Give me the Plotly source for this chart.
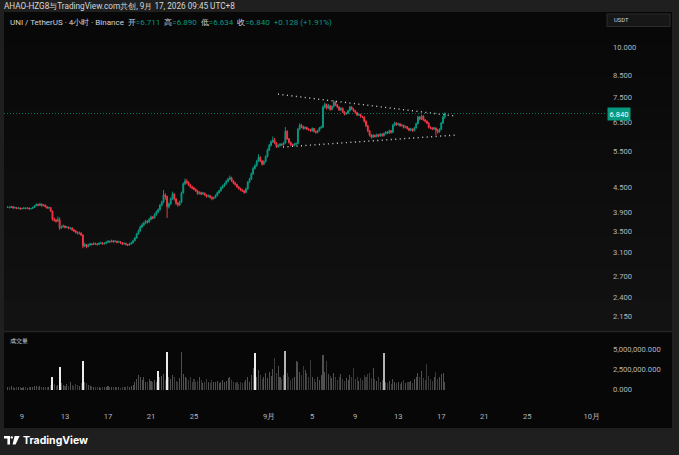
import math
import pandas as pd
import plotly.graph_objects as go

# ---------------- data ----------------
first_open = 4.00
closes = [4.01, 4.00, 4.02, 3.99, 4.00, 3.98, 3.99, 3.97, 3.98, 3.99,
          3.98, 3.99, 3.97, 3.98, 4.00, 4.04, 4.07, 4.05, 4.08, 4.04,
          4.06, 4.02, 3.99, 4.00, 3.92, 3.74, 3.72, 3.70, 3.73, 3.56,
          3.58, 3.60, 3.57, 3.58, 3.55, 3.56, 3.52, 3.50, 3.47, 3.45,
          3.46, 3.42, 3.21, 3.24, 3.20, 3.23, 3.25, 3.24, 3.26, 3.25,
          3.24, 3.26, 3.27, 3.25, 3.26, 3.28, 3.30, 3.29, 3.31, 3.29,
          3.30, 3.28, 3.29, 3.27, 3.25, 3.26, 3.24, 3.23, 3.25, 3.27,
          3.31, 3.36, 3.44, 3.50, 3.58, 3.62, 3.66, 3.70, 3.68, 3.74,
          3.79, 3.77, 3.84, 3.90, 3.95, 4.05, 4.12, 4.30, 4.26, 4.02,
          4.08, 4.20, 4.32, 4.20, 4.10, 4.06, 4.12, 4.35, 4.58, 4.65,
          4.62, 4.55, 4.50, 4.47, 4.44, 4.40, 4.33, 4.36, 4.32, 4.34,
          4.30, 4.26, 4.28, 4.24, 4.21, 4.23, 4.28, 4.35, 4.40, 4.48,
          4.52, 4.58, 4.64, 4.70, 4.74, 4.66, 4.60, 4.56, 4.50, 4.46,
          4.42, 4.40, 4.36, 4.45, 4.62, 4.70, 4.85, 5.00, 5.08, 5.20,
          5.33, 5.22, 5.12, 5.20, 5.35, 5.55, 5.70, 5.82, 5.88, 5.78,
          5.66, 5.70, 5.74, 5.72, 5.78, 6.18, 5.92, 5.80, 5.72, 5.70,
          5.74, 5.76, 6.25, 6.40, 6.35, 6.28, 6.32, 6.26, 6.24, 6.20,
          6.28, 6.18, 6.14, 6.20, 6.30, 6.33, 7.10, 7.20, 7.05, 7.15,
          7.00, 7.12, 7.30, 7.18, 7.10, 6.98, 7.05, 6.90, 6.82, 6.85,
          6.95, 7.10, 7.02, 6.95, 6.88, 6.78, 6.80, 6.72, 6.70, 6.55,
          6.38, 6.20, 6.05, 5.98, 6.04, 6.00, 6.06, 6.02, 6.08, 6.03,
          6.10, 6.15, 6.12, 6.20, 6.14, 6.40, 6.48, 6.42, 6.45, 6.38,
          6.40, 6.32, 6.35, 6.28, 6.22, 6.26, 6.20, 6.30, 6.45, 6.70,
          6.62, 6.74, 6.60, 6.55, 6.48, 6.32, 6.30, 6.26, 6.30, 6.22,
          6.16, 6.25, 6.48, 6.711, 6.840]

highs = [4.03, 4.02, 4.04, 4.03, 4.02, 4.01, 4.01, 4.00, 3.99, 4.01,
         4.00, 4.01, 4.00, 3.99, 4.02, 4.06, 4.10, 4.09, 4.11, 4.09,
         4.08, 4.07, 4.03, 4.02, 4.01, 3.93, 3.78, 3.75, 3.80, 3.78,
         3.61, 3.63, 3.61, 3.60, 3.59, 3.58, 3.57, 3.54, 3.52, 3.49,
         3.49, 3.47, 3.43, 3.27, 3.25, 3.25, 3.27, 3.26, 3.28, 3.27,
         3.26, 3.28, 3.29, 3.28, 3.28, 3.30, 3.32, 3.31, 3.33, 3.32,
         3.32, 3.31, 3.31, 3.30, 3.28, 3.28, 3.27, 3.25, 3.27, 3.29,
         3.33, 3.38, 3.46, 3.53, 3.61, 3.66, 3.69, 3.73, 3.72, 3.77,
         3.82, 3.81, 3.87, 3.93, 3.98, 4.08, 4.16, 4.42, 4.34, 4.28,
         4.12, 4.24, 4.38, 4.34, 4.22, 4.13, 4.16, 4.38, 4.62, 4.72,
         4.70, 4.64, 4.58, 4.53, 4.50, 4.46, 4.42, 4.39, 4.38, 4.37,
         4.36, 4.32, 4.31, 4.30, 4.26, 4.26, 4.31, 4.38, 4.43, 4.51,
         4.56, 4.61, 4.68, 4.74, 4.80, 4.77, 4.68, 4.63, 4.58, 4.52,
         4.48, 4.45, 4.42, 4.48, 4.65, 4.74, 4.89, 5.05, 5.12, 5.25,
         5.42, 5.36, 5.25, 5.24, 5.39, 5.60, 5.75, 5.87, 6.00, 5.95,
         5.81, 5.74, 5.78, 5.77, 5.82, 6.33, 6.22, 5.95, 5.83, 5.76,
         5.78, 5.80, 6.30, 6.47, 6.45, 6.38, 6.36, 6.34, 6.29, 6.27,
         6.32, 6.30, 6.21, 6.24, 6.34, 6.38, 7.16, 7.28, 7.24, 7.22,
         7.18, 7.16, 7.38, 7.34, 7.22, 7.13, 7.09, 7.08, 6.93, 6.90,
         6.99, 7.15, 7.13, 7.05, 6.98, 6.91, 6.85, 6.83, 6.76, 6.73,
         6.58, 6.41, 6.23, 6.09, 6.08, 6.07, 6.10, 6.09, 6.12, 6.11,
         6.14, 6.19, 6.18, 6.24, 6.23, 6.45, 6.53, 6.51, 6.49, 6.48,
         6.44, 6.42, 6.39, 6.37, 6.31, 6.30, 6.28, 6.34, 6.50, 6.76,
         6.74, 6.80, 6.77, 6.63, 6.58, 6.51, 6.36, 6.33, 6.34, 6.32,
         6.26, 6.29, 6.52, 6.75, 6.890]

lows = [3.99, 3.98, 3.99, 3.97, 3.98, 3.96, 3.97, 3.95, 3.96, 3.97,
        3.96, 3.97, 3.95, 3.96, 3.97, 3.99, 4.03, 4.03, 4.04, 4.02,
        4.03, 4.00, 3.97, 3.97, 3.90, 3.71, 3.69, 3.67, 3.69, 3.52,
        3.54, 3.57, 3.55, 3.56, 3.53, 3.53, 3.50, 3.48, 3.45, 3.43,
        3.43, 3.40, 3.17, 3.19, 3.17, 3.19, 3.22, 3.22, 3.23, 3.23,
        3.22, 3.23, 3.25, 3.23, 3.24, 3.25, 3.27, 3.27, 3.28, 3.27,
        3.28, 3.26, 3.27, 3.25, 3.23, 3.24, 3.22, 3.21, 3.22, 3.24,
        3.26, 3.30, 3.35, 3.43, 3.49, 3.56, 3.60, 3.65, 3.65, 3.67,
        3.72, 3.74, 3.76, 3.82, 3.88, 3.93, 4.03, 4.10, 4.18, 3.77,
        3.98, 4.06, 4.18, 4.16, 4.06, 4.02, 4.04, 4.10, 4.33, 4.55,
        4.57, 4.52, 4.47, 4.44, 4.41, 4.37, 4.30, 4.31, 4.29, 4.30,
        4.27, 4.23, 4.24, 4.21, 4.17, 4.19, 4.22, 4.27, 4.33, 4.38,
        4.45, 4.50, 4.56, 4.62, 4.68, 4.63, 4.57, 4.53, 4.47, 4.43,
        4.39, 4.37, 4.33, 4.34, 4.43, 4.60, 4.68, 4.82, 4.97, 5.05,
        5.18, 5.18, 5.08, 5.10, 5.18, 5.32, 5.52, 5.67, 5.78, 5.74,
        5.62, 5.63, 5.67, 5.68, 5.70, 5.76, 5.88, 5.76, 5.68, 5.66,
        5.67, 5.71, 5.74, 6.22, 6.30, 6.24, 6.25, 6.22, 6.20, 6.16,
        6.17, 6.14, 6.10, 6.11, 6.18, 6.27, 6.30, 7.04, 7.00, 7.02,
        6.95, 6.97, 7.08, 7.14, 7.05, 6.94, 6.95, 6.86, 6.77, 6.79,
        6.82, 6.92, 6.98, 6.91, 6.84, 6.74, 6.75, 6.68, 6.66, 6.50,
        6.33, 6.15, 6.00, 5.93, 5.95, 5.96, 5.97, 5.98, 5.99, 5.99,
        6.00, 6.07, 6.08, 6.09, 6.10, 6.12, 6.36, 6.38, 6.39, 6.34,
        6.35, 6.28, 6.29, 6.24, 6.18, 6.19, 6.16, 6.18, 6.28, 6.43,
        6.58, 6.60, 6.56, 6.50, 6.44, 6.28, 6.26, 6.22, 6.23, 6.04,
        6.10, 6.13, 6.22, 6.45, 6.634]

# volume per 4h bar, in millions of UNI
volume_m = [0.35, 0.3, 0.4, 0.3, 0.25, 0.3, 0.35, 0.3, 0.25, 0.3,
            0.3, 0.25, 0.3, 0.35, 0.3, 0.45, 0.5, 0.35, 0.4, 0.35,
            0.3, 0.35, 0.3, 0.3, 0.6, 1.5, 0.7, 0.5, 0.6, 2.8,
            0.8, 0.6, 0.5, 0.7, 0.5, 0.9, 0.6, 0.5, 0.7, 0.6,
            0.5, 0.8, 3.5, 1.0, 0.8, 0.6, 0.5, 0.4, 0.3, 0.35,
            0.3, 0.3, 0.25, 0.3, 0.35, 0.3, 0.4, 0.3, 0.35, 0.3,
            0.35, 0.3, 0.3, 0.25, 0.3, 0.35, 0.3, 0.4, 0.35, 0.4,
            0.6, 0.9, 1.3, 1.8, 1.5, 1.2, 1.6, 1.0, 0.9, 1.3,
            1.1, 0.9, 1.2, 1.0, 2.3, 1.5, 1.7, 1.9, 1.2, 4.6,
            1.6, 1.3, 1.8, 1.5, 1.1, 1.0, 1.4, 4.6, 1.9, 1.6,
            1.4, 1.2, 1.6, 1.0, 1.3, 0.9, 1.1, 1.5, 1.2, 0.8,
            1.0, 1.3, 0.9, 0.8, 1.2, 1.0, 0.9, 1.1, 0.8, 1.0,
            1.2, 0.9, 1.1, 1.4, 1.6, 1.2, 0.9, 0.8, 1.0, 0.7,
            0.9, 0.8, 1.0, 1.2, 1.5, 1.0, 1.8, 2.7, 4.5, 1.6,
            2.4, 1.8, 1.3, 1.5, 2.0, 1.4, 2.2, 1.7, 2.5, 3.9,
            2.1, 2.9, 1.6, 1.3, 1.8, 4.7, 2.0, 1.5, 1.2, 1.4,
            1.6, 3.5, 3.4, 2.2, 1.8, 2.9, 2.4, 2.0, 1.6, 3.7,
            1.5, 1.3, 1.0, 1.6, 1.2, 1.8, 4.3, 2.2, 3.5, 1.9,
            1.7, 1.4, 2.0, 1.5, 1.2, 1.6, 1.9, 1.3, 1.1, 1.4,
            1.2, 1.8, 1.5, 2.7, 1.3, 1.6, 1.1, 1.4, 1.2, 1.8,
            1.5, 1.9, 2.1, 1.4, 2.7, 1.3, 1.1, 1.6, 1.0, 1.2,
            4.5, 1.0, 0.8, 1.1, 0.7, 1.3, 0.9, 0.8, 1.0, 0.7,
            0.9, 1.2, 0.8, 1.0, 0.9, 1.1, 0.8, 1.3, 1.6, 2.0,
            1.5, 2.3, 1.4, 1.2, 3.1, 1.7, 1.3, 1.1, 1.6, 2.2,
            1.3, 1.5, 1.9, 2.0, 1.0]

assert len(closes) == len(highs) == len(lows) == len(volume_m) == 245

bright_volume_bars = [25, 29, 42, 84, 89, 138]
light_volume_bars = [155, 210]

# user-drawn triangle (dotted trend lines)
trend_upper_x = ["2026-09-01 19:30", "2026-09-18 09:00"]
trend_upper_y = [7.64, 6.74]
trend_lower_x = ["2026-09-02 06:45", "2026-09-18 09:00"]
trend_lower_y = [5.65, 6.05]

price_ticks = [10, 8.5, 7.5, 6.5, 5.5, 4.5, 3.9, 3.5, 3.1, 2.7, 2.4, 2.15]
volume_ticks = [0, 2.5e6, 5e6]
x_tick_dates = ["2026-08-09", "2026-08-13", "2026-08-17", "2026-08-21", "2026-08-25",
                "2026-09-01", "2026-09-05", "2026-09-09", "2026-09-13", "2026-09-17",
                "2026-09-21", "2026-09-25", "2026-10-01"]
x_tick_labels = ["9", "13", "17", "21", "25", "9月", "5", "9", "13", "17", "21", "25", "10月"]

# ---------------- derived ----------------
dates = pd.date_range("2026-08-07 16:00", periods=len(closes), freq="4h")
opens = [first_open] + closes[:-1]
volumes = [v * 1e6 for v in volume_m]
last_close = closes[-1]

UP = "#089981"
DOWN = "#f23645"
TXT = "#b2b5be"
FONT = "Roboto, Liberation Sans, sans-serif"

vol_colors = []
for i, (o, c) in enumerate(zip(opens, closes)):
    if i in bright_volume_bars:
        vol_colors.append("#ececec")
    elif i in light_volume_bars:
        vol_colors.append("#b4b4b4")
    elif c >= o:
        vol_colors.append("rgba(140,140,140,0.55)")
    else:
        vol_colors.append("rgba(100,100,100,0.55)")

# page geometry helpers (pixel -> paper)
W, H = 679, 455
PL, PR, PT, PB = 4, 605, 12, 402


def px(x):
    return (x - PL) / (PR - PL)


def py(y):
    return (PB - y) / (PB - PT)


x_start = pd.Timestamp("2026-08-07 07:49")
x_end = pd.Timestamp("2026-10-02 05:35")

fig = go.Figure()

fig.add_trace(go.Candlestick(
    x=dates, open=opens, high=highs, low=lows, close=closes,
    increasing=dict(line=dict(color=UP, width=1), fillcolor=UP),
    decreasing=dict(line=dict(color=DOWN, width=1), fillcolor=DOWN),
    xaxis="x", yaxis="y", showlegend=False, hoverinfo="skip"))

fig.add_trace(go.Bar(
    x=dates, y=volumes, marker=dict(color=vol_colors, line=dict(width=0)),
    width=4 * 3600 * 1000 * 0.6, xaxis="x", yaxis="y2",
    showlegend=False, hoverinfo="skip"))

for tx, ty in ((trend_upper_x, trend_upper_y), (trend_lower_x, trend_lower_y)):
    fig.add_trace(go.Scatter(
        x=tx, y=ty, mode="lines", xaxis="x", yaxis="y",
        line=dict(color="#d4d4d4", width=1.4, dash="1px,3.5px"),
        showlegend=False, hoverinfo="skip"))

# last price line
fig.add_trace(go.Scatter(
    x=[x_start, x_end], y=[last_close, last_close], mode="lines",
    xaxis="x", yaxis="y", line=dict(color="rgba(8,153,129,0.75)", width=1, dash="1px,2px"),
    showlegend=False, hoverinfo="skip"))

shapes = []
# outer chart panel
shapes.append(dict(type="rect", xref="paper", yref="paper", x0=px(4), x1=px(672),
                   y0=py(428), y1=py(12), fillcolor="#0c0c0c", line=dict(width=0), layer="below"))
# subtle vertical gradient in the price pane
bands = 10
for k in range(bands):
    y0p = 12 + (331 - 12) * k / bands
    y1p = 12 + (331 - 12) * (k + 1) / bands
    g = int(8 + 10 * k / (bands - 1))
    shapes.append(dict(type="rect", xref="paper", yref="paper", x0=px(4), x1=px(672),
                       y0=py(y1p), y1=py(y0p), fillcolor=f"rgb({g},{g},{g})",
                       line=dict(width=0), layer="below"))
# volume pane + time axis
shapes.append(dict(type="rect", xref="paper", yref="paper", x0=px(4), x1=px(672),
                   y0=py(428), y1=py(332), fillcolor="#070707", line=dict(width=0), layer="below"))
# pane separator
shapes.append(dict(type="line", xref="paper", yref="paper", x0=px(4), x1=px(672),
                   y0=py(331.5), y1=py(331.5), line=dict(color="#262626", width=1.5), layer="below"))
# USDT box
shapes.append(dict(type="rect", xref="paper", yref="paper", x0=px(607), x1=px(670),
                   y0=py(26.5), y1=py(14), fillcolor="#171717",
                   line=dict(color="#2c2c2c", width=1), layer="below"))


# TradingView logo glyph
def path(points):
    return "M " + " L ".join(f"{px(a):.5f},{py(b):.5f}" for a, b in points) + " Z"


shapes.append(dict(type="path", xref="paper", yref="paper",
                   path=path([(4, 436), (10, 436), (10, 444.5), (7.4, 444.5), (7.4, 438.6), (4, 438.6)]),
                   fillcolor="#ffffff", line=dict(width=0)))
shapes.append(dict(type="circle", xref="paper", yref="paper",
                   x0=px(10.6), x1=px(13.0), y0=py(438.6), y1=py(436.2),
                   fillcolor="#ffffff", line=dict(width=0)))
shapes.append(dict(type="path", xref="paper", yref="paper",
                   path=path([(14.6, 436), (19.6, 436), (15.6, 444.5), (12.6, 444.5)]),
                   fillcolor="#ffffff", line=dict(width=0)))

G = f"<span style='color:{UP}'>"
SP = "\u00a0\u00a0"
legend_text = (f"UNI / TetherUS · 4小时 · Binance{SP}"
               f"开{G}=6.711</span>{SP}高{G}=6.890</span>{SP}低{G}=6.634</span>{SP}"
               f"收{G}=6.840</span>{SP}{G}+0.128 (+1.91%)</span>")

annotations = [
    dict(text="AHAO-HZG8与TradingView.com共创, 9月 17, 2026 09:45 UTC+8",
         xref="paper", yref="paper", x=px(2), y=py(6), xanchor="left", yanchor="middle",
         showarrow=False, font=dict(size=8.2, color="#d6d6d6", family=FONT)),
    dict(text=legend_text, xref="paper", yref="paper", x=px(8), y=py(22),
         xanchor="left", yanchor="middle", showarrow=False,
         font=dict(size=8.0, color="#d1d4dc", family=FONT)),
    dict(text="USDT", xref="paper", yref="paper", x=px(612), y=py(20.3),
         xanchor="left", yanchor="middle", showarrow=False,
         font=dict(size=5.8, color="#d1d4dc", family=FONT)),
    dict(text="成交量", xref="paper", yref="paper", x=px(8), y=py(340),
         xanchor="left", yanchor="middle", showarrow=False,
         font=dict(size=5.8, color="#d1d4dc", family=FONT)),
    dict(text=f"{last_close:.3f}", xref="paper", yref="y", x=px(606.5), y=math.log10(last_close),
         xanchor="left", yanchor="middle", showarrow=False, bgcolor=UP, borderpad=1.5,
         font=dict(size=7.6, color="#ffffff", family=FONT)),
    dict(text="<b>TradingView</b>", xref="paper", yref="paper", x=px(21), y=py(440.3),
         xanchor="left", yanchor="middle", showarrow=False,
         font=dict(size=10.5, color="#ffffff", family="Inter, Roboto, sans-serif")),
]

y_top = 10 * math.exp((47 - 12) / 175.2)
y_bot = 10 * math.exp(-(331 - 47) / 175.2)

fig.update_layout(
    width=W, height=H,
    margin=dict(l=PL, r=W - PR, t=PT, b=H - PB, pad=0),
    paper_bgcolor="#1f1f1f", plot_bgcolor="rgba(0,0,0,0)",
    font=dict(family=FONT, color=TXT),
    showlegend=False, hovermode=False, bargap=0,
    shapes=shapes, annotations=annotations,
    xaxis=dict(type="date", domain=[0, 1], anchor="y2", range=[x_start, x_end],
               rangeslider=dict(visible=False), showgrid=False, zeroline=False,
               showline=False, ticks="", tickvals=x_tick_dates, ticktext=x_tick_labels,
               tickfont=dict(size=7.6, color=TXT, family=FONT), ticklabelstandoff=8),
    yaxis=dict(type="log", domain=[(PB - 331) / (PB - PT), 1], anchor="x", side="right",
               range=[math.log10(y_bot), math.log10(y_top)], showgrid=False, zeroline=False,
               showline=False, ticks="", tickvals=price_ticks,
               ticktext=[f"{v:.3f}" for v in price_ticks],
               tickfont=dict(size=7.6, color=TXT, family=FONT), ticklabelstandoff=7),
    yaxis2=dict(domain=[0, (PB - 332) / (PB - PT)], anchor="x", side="right",
                range=[-(PB - 389.7) / 40.7 * 5e6, (389.7 - 332) / 40.7 * 5e6],
                showgrid=False, zeroline=False, showline=False, ticks="",
                tickvals=volume_ticks, ticktext=[f"{v:,.3f}" for v in volume_ticks],
                tickfont=dict(size=7.6, color=TXT, family=FONT), ticklabelstandoff=7),
)

fig.write_html(
    "out.html",
    config={"displayModeBar": False},
    post_script="document.body.style.margin='0';document.body.style.background='#1f1f1f';"
                "document.documentElement.style.background='#1f1f1f';",
)
